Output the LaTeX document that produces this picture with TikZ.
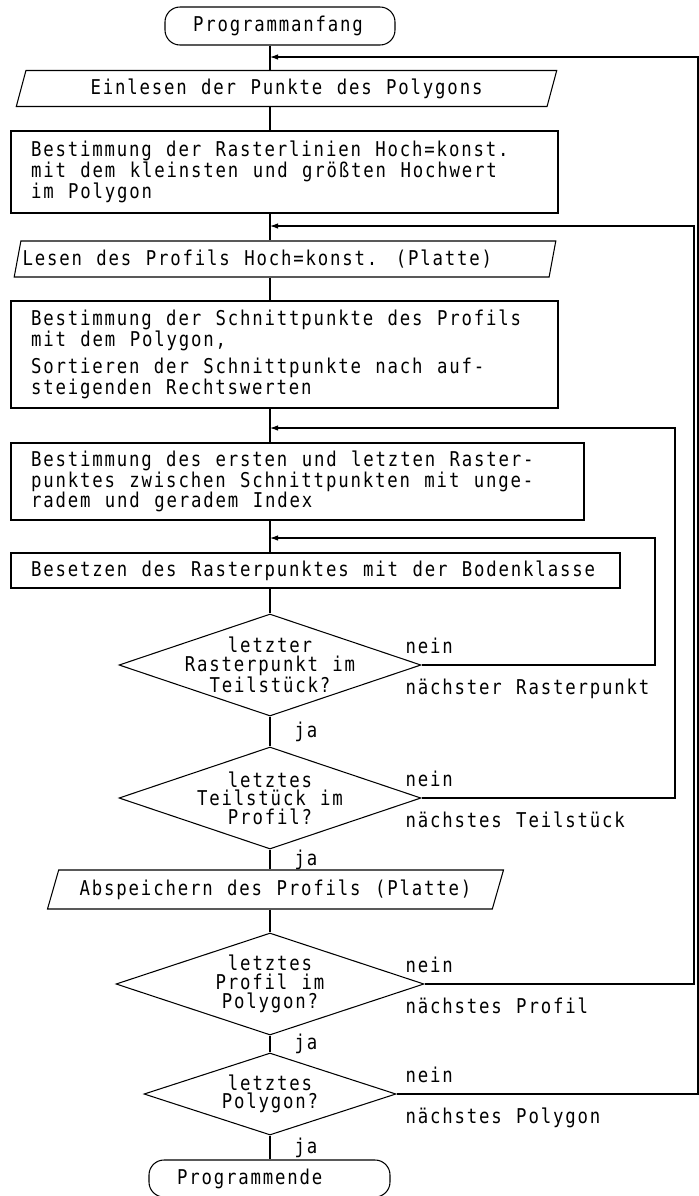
\documentclass[tikz,border=0pt]{standalone}
\usepackage{fontspec}
\usetikzlibrary{shapes.geometric, arrows.meta, positioning}
\newfontfamily\flowfont[FakeStretch=0.85, LetterSpace=9, WordSpace=1.176]{DejaVu Sans Mono}
\tikzstyle{terminal} = [rectangle, rounded corners=0.3cm, draw, align=flush left, inner xsep=0.56cm, minimum height=0.76cm]
\tikzstyle{iobox} = [trapezium, trapezium left angle=70, trapezium right angle=110, trapezium stretches=true, draw, inner sep=0pt, minimum height=0.72cm]
\tikzstyle{procbox} = [rectangle, draw, align=flush left, inner xsep=0.4cm]
\tikzstyle{decision} = [diamond, draw, inner sep=0pt, minimum width=6.04cm, minimum height=2.04cm]
\tikzstyle{dtext} = [align=center, inner sep=0pt, font=\flowfont\fontsize{11.6pt}{10.6pt}\selectfont]
\tikzstyle{answer} = [anchor=base west, inner sep=0pt]
\tikzstyle{yes} = [anchor=west, inner sep=0pt, xshift=0.48cm]
\tikzstyle{arrow} = [-{Latex[length=1.6mm,width=1.1mm]}]

\begin{document}
\begin{tikzpicture}[font=\flowfont\fontsize{11.6pt}{11.8pt}\selectfont, line width=0.6pt]
\useasboundingbox (0,0) rectangle (13.98,-23.92);
\coordinate (axis) at (5.4,0);
\coordinate (labx) at (8.1,0);
\coordinate (loopa) at (13.1,0);
\coordinate (loopb) at (13.5,0);
\coordinate (loopc) at (13.88,0);
\coordinate (loopd) at (13.96,0);
\coordinate (join4) at (5.4,-1.14);
\coordinate (join3) at (5.4,-4.52);
\coordinate (join2) at (5.4,-8.56);
\coordinate (join1) at (5.4,-10.76);

\node[terminal, text width=3.48cm] (start) at (5.6,-0.52) {Programmanfang};
\node[iobox, minimum width=10.82cm] (read1) at (5.73,-1.77) {Einlesen der Punkte des Polygons};
\node[procbox, text width=10.14cm, minimum height=1.64cm] (calc1) at (5.69,-3.44)
    {Bestimmung der Rasterlinien Hoch=konst.\\mit dem kleinsten und größten Hochwert\\im Polygon};
\node[iobox, minimum width=10.88cm, text width=10.5cm, align=flush left] (read2) at (5.70,-5.18)
    {Lesen des Profils Hoch=konst. (Platte)};
\node[procbox, text width=10.14cm, minimum height=2.14cm] (calc2) at (5.69,-7.09)
    {Bestimmung der Schnittpunkte des Profils\\mit dem Polygon,\\[4pt]Sortieren der Schnittpunkte nach auf-\\steigenden Rechtswerten};
\node[procbox, text width=10.66cm, minimum height=1.54cm] (calc3) at (5.95,-9.63)
    {Bestimmung des ersten und letzten Raster-\\punktes zwischen Schnittpunkten mit unge-\\radem und geradem Index};
\node[procbox, text width=11.38cm, minimum height=0.70cm] (assign) at (6.31,-11.41)
    {Besetzen des Rasterpunktes mit der Bodenklasse};
\node[decision, label={[dtext]center:{letzter\\Rasterpunkt im\\Teilstück?}}] (test1) at (5.4,-13.3) {};
\node[decision, label={[dtext]center:{letztes\\Teilstück im\\Profil?}}] (test2) at (5.4,-15.96) {};
\node[iobox, trapezium left angle=63, trapezium right angle=117, minimum width=9.14cm, minimum height=0.78cm] (save) at (5.51,-17.79)
    {Abspeichern des Profils (Platte)};
\node[decision, minimum width=6.16cm, label={[dtext]center:{letztes\\Profil im\\Polygon?}}] (test3) at (5.4,-19.68) {};
\node[decision, minimum width=5.04cm, minimum height=1.64cm, label={[dtext]center:{letztes\\Polygon?}}] (test4) at (5.4,-21.88) {};
\node[terminal, text width=3.7cm, minimum height=0.74cm] (stop) at (5.39,-23.57) {Programmende};

\foreach \a/\b in {start/read1, read1/calc1, calc1/read2, read2/calc2, calc2/calc3, calc3/assign, assign/test1}
    \draw (\a.south -| axis) -- (\b.north -| axis);
\draw (test1.south) -- node[yes] {ja} (test2.north);
\draw (test2.south) -- node[yes] {ja} (save.north -| axis);
\draw (save.south -| axis) -- (test3.north);
\draw (test3.south) -- node[yes] {ja} (test4.north);
\draw (test4.south) -- node[yes] {ja} (stop.north -| axis);

\draw[arrow] (test1.east) -- (test1.east -| loopa) |- (join1);
\draw[arrow] (test2.east) -- (test2.east -| loopb) |- (join2);
\draw[arrow] (test3.east) -- (test3.east -| loopc) |- (join3);
\draw[arrow] (test4.east) -- (test4.east -| loopd) |- (join4);

\node[answer, yshift=0.24cm] (no1) at (test1.east -| labx) {nein};
\node[answer, yshift=-0.58cm] (next1) at (test1.east -| labx) {nächster Rasterpunkt};
\node[answer, yshift=0.24cm] (no2) at (test2.east -| labx) {nein};
\node[answer, yshift=-0.58cm] (next2) at (test2.east -| labx) {nächstes Teilstück};
\node[answer, yshift=0.24cm] (no3) at (test3.east -| labx) {nein};
\node[answer, yshift=-0.58cm] (next3) at (test3.east -| labx) {nächstes Profil};
\node[answer, yshift=0.24cm] (no4) at (test4.east -| labx) {nein};
\node[answer, yshift=-0.58cm] (next4) at (test4.east -| labx) {nächstes Polygon};
\end{tikzpicture}
\end{document}
